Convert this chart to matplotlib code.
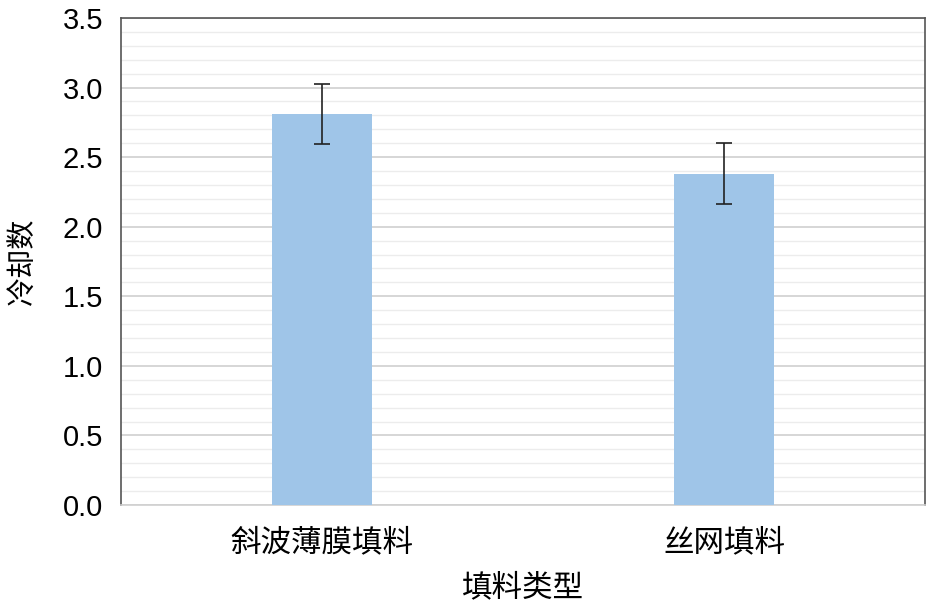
import matplotlib
matplotlib.use("Agg")
import matplotlib.pyplot as plt
from matplotlib.ticker import MultipleLocator, FormatStrFormatter

plt.rcParams['font.family'] = ['Liberation Sans', 'Noto Sans CJK SC', 'DejaVu Sans']

categories = ["斜波薄膜填料", "丝网填料"]
values = [2.81, 2.38]
errors = [0.215, 0.22]

fig = plt.figure(figsize=(9.36, 6.14), dpi=100)
ax = fig.add_axes([121 / 936, 1 - 505 / 614, 804 / 936, 487 / 614])

x = range(len(categories))
ax.bar(x, values, width=0.25, color="#9fc5e8", zorder=3)
ax.errorbar(x, values, yerr=errors, fmt="none", ecolor="#222222",
            elinewidth=1.2, capsize=6, capthick=1.2, zorder=4)

ax.set_xlim(-0.5, 1.5)
ax.set_ylim(0, 3.5)
ax.yaxis.set_major_locator(MultipleLocator(0.5))
ax.yaxis.set_minor_locator(MultipleLocator(0.1))
ax.yaxis.set_major_formatter(FormatStrFormatter("%.1f"))
ax.grid(which="major", axis="y", color="#d0d0d0", linewidth=1.2, zorder=0)
ax.grid(which="minor", axis="y", color="#ececec", linewidth=1.0, zorder=0)

ax.set_xticks(list(x))
ax.set_xticklabels(categories, fontsize=22, family=['Noto Sans CJK SC'])
ax.tick_params(axis="both", which="both", length=0)
ax.tick_params(axis="y", labelsize=21, pad=13)
ax.tick_params(axis="x", pad=16)

for side in ["left", "top", "right"]:
    ax.spines[side].set_color("#555555")
    ax.spines[side].set_linewidth(1.2)
ax.spines["bottom"].set_color("#d0d0d0")
ax.spines["bottom"].set_linewidth(1.2)

ax.set_xlabel("填料类型", fontsize=22, family=['Noto Sans CJK SC'], labelpad=10)
ax.set_ylabel("冷却数", fontsize=21, family=['Noto Sans CJK SC'], labelpad=18)

fig.savefig("out.png", dpi=100)
